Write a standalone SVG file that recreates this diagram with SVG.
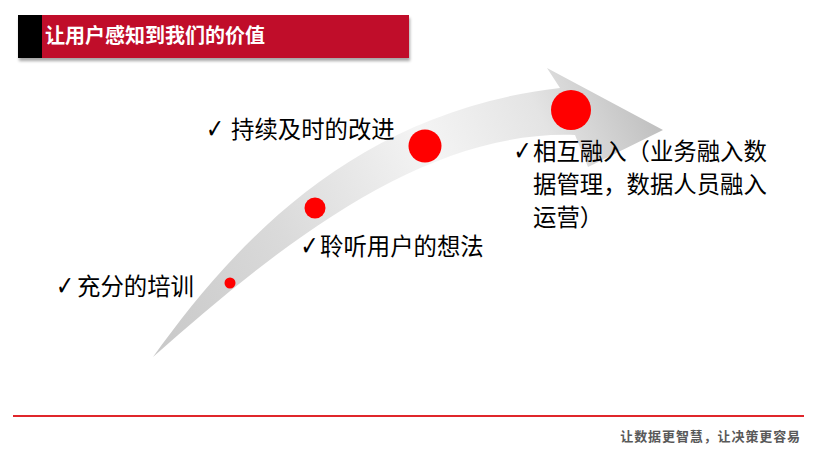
<svg xmlns="http://www.w3.org/2000/svg" width="815" height="452" viewBox="0 0 815 452">
  <defs>
    <linearGradient id="arrowGrad" gradientUnits="userSpaceOnUse" x1="153" y1="357" x2="663" y2="110">
      <stop offset="0" stop-color="#c8c8c8"/>
      <stop offset="0.3" stop-color="#dadada"/>
      <stop offset="0.6" stop-color="#f4f4f4"/>
      <stop offset="0.8" stop-color="#e4e4e4"/>
      <stop offset="1" stop-color="#bcbcbc"/>
    </linearGradient>
    <filter id="shadow" x="-5%" y="-30%" width="110%" height="170%">
      <feDropShadow dx="1" dy="3" stdDeviation="1.5" flood-color="#000" flood-opacity="0.35"/>
    </filter>
  </defs>
  <style>
    .label { font-family: "Noto Sans CJK SC", "Noto Sans", sans-serif; font-size: 23.4px; fill: #000; }
    .check { font-family: "DejaVu Sans", sans-serif; font-size: 27px; fill: #000; }
    .dot { fill: #ff0000; }
    .title { font-family: "Noto Sans CJK SC", sans-serif; font-size: 20px; font-weight: bold; fill: #ffffff; }
    .footer { font-family: "Noto Sans CJK SC", sans-serif; font-size: 13px; font-weight: bold; fill: #595959; letter-spacing: 0.9px; }
  </style>
  <rect width="815" height="452" fill="#ffffff"/>

  <g id="title-bar">
    <g filter="url(#shadow)">
      <rect x="18" y="15" width="391" height="43" fill="#c00f2b"/>
      <rect x="18" y="15" width="24" height="43" fill="#000000"/>
    </g>
    <text class="title" x="45" y="43">让用户感知到我们的价值</text>
  </g>

  <g id="arrow">
    <path d="M153,357 C230,250 350,112 560,88 L547,68 L663,130 L588,167 L575,135 C430,130 290,235 153,357 Z" fill="url(#arrowGrad)"/>
  </g>

  <g id="dots">
    <circle class="dot" cx="230" cy="283" r="5.5"/>
    <circle class="dot" cx="315" cy="208" r="10.5"/>
    <circle class="dot" cx="425" cy="146" r="16.5"/>
    <circle class="dot" cx="571" cy="110" r="20"/>
  </g>

  <g id="step1">
    <text class="check" transform="translate(56,295) scale(0.8,1)">✓</text>
    <text class="label" x="77" y="295">充分的培训</text>
  </g>
  <g id="step2">
    <text class="check" transform="translate(300.5,255) scale(0.8,1)">✓</text>
    <text class="label" x="320" y="255">聆听用户的想法</text>
  </g>
  <g id="step3">
    <text class="check" transform="translate(206,138) scale(0.8,1)">✓</text>
    <text class="label" x="231" y="138">持续及时的改进</text>
  </g>
  <g id="step4">
    <text class="check" transform="translate(513.5,160) scale(0.8,1)">✓</text>
    <text class="label" x="533" y="160">相互融入（业务融入数</text>
    <text class="label" x="533" y="193">据管理，数据人员融入</text>
    <text class="label" x="533" y="226">运营）</text>
  </g>

  <g id="footer">
    <line x1="13" y1="416" x2="804" y2="416" stroke="#e0262b" stroke-width="2"/>
    <text class="footer" x="801" y="441" text-anchor="end">让数据更智慧，让决策更容易</text>
  </g>
</svg>
